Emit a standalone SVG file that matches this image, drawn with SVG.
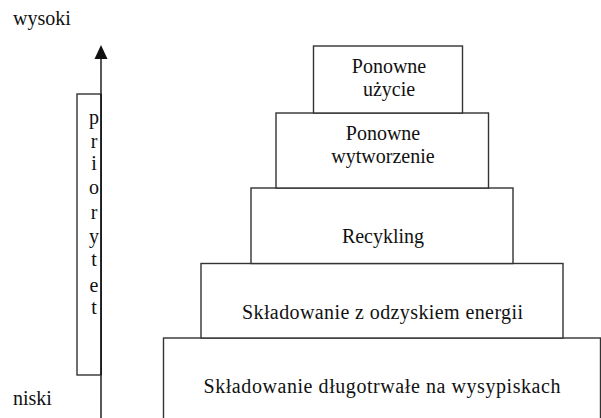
<svg xmlns="http://www.w3.org/2000/svg" width="601" height="418" viewBox="0 0 601 418">
<style>
.box{fill:#fff;stroke:#333;stroke-width:1.4}
.t{font-family:"Liberation Serif","Times New Roman",serif;font-size:20px;fill:#111}
.c{text-anchor:middle}
</style>
<rect width="601" height="418" fill="#fff"/>
<text class="t" x="13" y="25">wysoki</text>
<text class="t" x="13" y="405">niski</text>
<g id="connectors">
<line x1="101" y1="56" x2="101" y2="420" stroke="#111" stroke-width="1.4"/>
<polygon points="101,45 94.5,59 107.5,59" fill="#111"/>
</g>
<g id="priorytet">
<rect class="box" x="77" y="94" width="24" height="281" fill="none"/>
<line x1="101" y1="94" x2="101" y2="375" stroke="#111" stroke-width="1.4"/>
<g class="t c" font-size="18">
<text x="94" y="124">p</text>
<text x="94" y="148">r</text>
<text x="94" y="170">i</text>
<text x="94" y="194">o</text>
<text x="94" y="219">r</text>
<text x="94" y="243">y</text>
<text x="94" y="266">t</text>
<text x="94" y="292">e</text>
<text x="94" y="314">t</text>
</g>
</g>
<g id="box5">
<rect class="box" x="163.5" y="338" width="437" height="90"/>
<text class="t c" x="382" y="393" textLength="357" lengthAdjust="spacing">Składowanie długotrwałe na wysypiskach</text>
</g>
<g id="box4">
<rect class="box" x="201" y="263.5" width="362" height="74.5"/>
<text class="t c" x="382.5" y="319" textLength="281" lengthAdjust="spacing">Składowanie z odzyskiem energii</text>
</g>
<g id="box3">
<rect class="box" x="251" y="188" width="262" height="75.5"/>
<text class="t c" x="383" y="243">Recykling</text>
</g>
<g id="box2">
<rect class="box" x="276" y="113" width="212.5" height="75"/>
<text class="t c" x="383" y="140">Ponowne</text>
<text class="t c" x="383" y="163">wytworzenie</text>
</g>
<g id="box1">
<rect class="box" x="313.5" y="46" width="149" height="67"/>
<text class="t c" x="389" y="73">Ponowne</text>
<text class="t c" x="389" y="96">użycie</text>
</g>
</svg>
